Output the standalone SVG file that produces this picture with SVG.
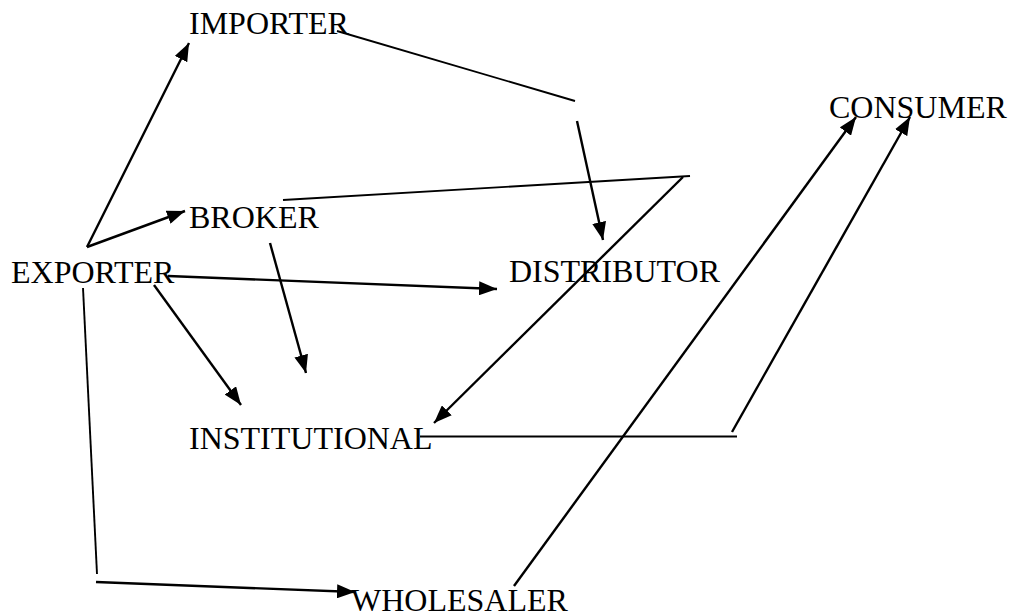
<svg xmlns="http://www.w3.org/2000/svg" width="1010" height="615" viewBox="0 0 1010 615">
<style>
text { font-family: "Liberation Serif", "Times New Roman", serif; font-size: 32px; fill: #000; }
.a { stroke: #000; stroke-width: 2.4; fill: none; marker-end: url(#ah); }
.l { stroke: #000; stroke-width: 1.9; fill: none; }
</style>
<defs>
<marker id="ah" markerUnits="userSpaceOnUse" markerWidth="18" markerHeight="14" refX="18" refY="7" orient="auto">
<path d="M0,0 L18,7 L0,14 z" fill="#000"/>
</marker>
</defs>
<rect width="1010" height="615" fill="#fff"/>
<g id="connectors">
<line class="a" x1="87" y1="247" x2="189" y2="43"/>
<line class="a" x1="87" y1="247" x2="185" y2="211"/>
<line class="a" x1="168" y1="276" x2="497" y2="289"/>
<line class="a" x1="154" y1="285" x2="241" y2="405"/>
<line class="a" x1="270" y1="243" x2="306" y2="373"/>
<line class="l" x1="337" y1="31" x2="575" y2="101"/>
<line class="a" x1="577" y1="121" x2="603" y2="240"/>
<line class="l" x1="283" y1="200" x2="690" y2="176"/>
<line class="a" x1="683" y1="177" x2="434" y2="423"/>
<line class="l" x1="420" y1="436.5" x2="737" y2="436.5"/>
<line class="a" x1="732" y1="432" x2="910" y2="117"/>
<line class="a" x1="514" y1="586" x2="856" y2="117"/>
<line class="l" x1="83" y1="288" x2="97" y2="574"/>
<line class="a" x1="96" y1="582" x2="355" y2="592"/>
</g>
<g id="importer"><text x="189" y="34">IMPORTER</text></g>
<g id="broker"><text x="189" y="228">BROKER</text></g>
<g id="exporter"><text x="11" y="283">EXPORTER</text></g>
<g id="distributor"><text x="509" y="282">DISTRIBUTOR</text></g>
<g id="consumer"><text x="829" y="118">CONSUMER</text></g>
<g id="institutional"><text x="189" y="449">INSTITUTIONAL</text></g>
<g id="wholesaler"><text x="351" y="611">WHOLESALER</text></g>
</svg>
